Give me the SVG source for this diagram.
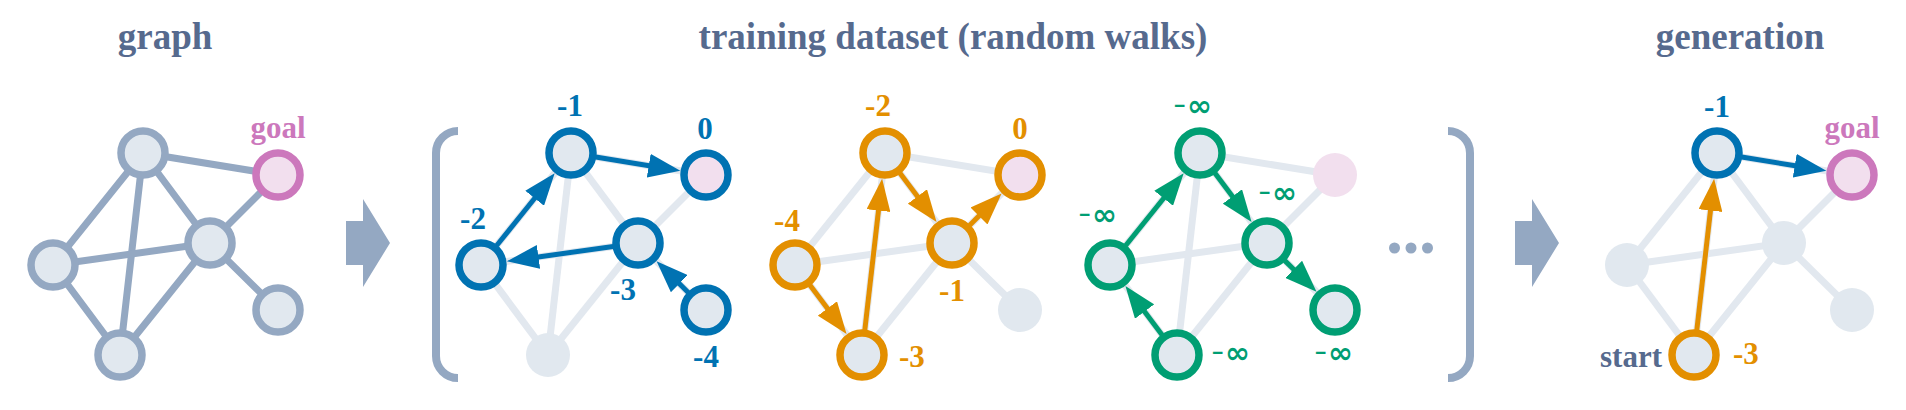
<svg xmlns="http://www.w3.org/2000/svg" width="1906" height="410" viewBox="0 0 1906 410">
<style>
.title{font-family:"Liberation Serif",serif;font-weight:bold;font-size:37px;fill:#566a8e;text-anchor:middle}
.lbl{font-family:"Liberation Serif",serif;font-weight:bold;font-size:31px;text-anchor:middle}
.inf{font-family:"DejaVu Sans",sans-serif;font-weight:bold;font-size:30px;text-anchor:middle;fill:#009e73}
.mn{font-family:"Liberation Sans",sans-serif;font-weight:bold;font-size:19px}
.st{text-anchor:start}
.en{text-anchor:end}
.e{stroke:#94a8c2;stroke-width:7;stroke-linecap:round}
.f{stroke:#e2e8ef;stroke-width:7}
.n{fill:#e1e8ef;stroke:#94a8c2;stroke-width:7.5}
.g{fill:#f2dfee;stroke:#cc78bc;stroke-width:7.5}
.fn{fill:#e1e8ef}
.fg{fill:#f2dfee}
.nb{fill:#e1e8ef;stroke:#0072b2;stroke-width:7.5}
.no{fill:#e1e8ef;stroke:#e38f00;stroke-width:7.5}
.ng{fill:#e1e8ef;stroke:#009e73;stroke-width:7.5}
.gb{fill:#f2dfee;stroke:#0072b2;stroke-width:7.5}
.go{fill:#f2dfee;stroke:#e38f00;stroke-width:7.5}
.ab{stroke:#0072b2;stroke-width:5;marker-end:url(#mb)}
.ao{stroke:#e38f00;stroke-width:5;marker-end:url(#mo)}
.ag{stroke:#009e73;stroke-width:5;marker-end:url(#mg)}
.cb{fill:#0072b2}.co{fill:#e38f00}.cg{fill:#009e73}.cp{fill:#cc78bc}.cs{fill:#566a8e}
.br{fill:none;stroke:#94a8c2;stroke-width:8}
.big{fill:#94a8c2}
</style>
<defs>
<marker id="mb" markerUnits="userSpaceOnUse" markerWidth="32" markerHeight="24" viewBox="0 0 32 24" refX="2" refY="12" orient="auto"><path d="M0,0 L32,12 L0,24 z" fill="#0072b2"/></marker>
<marker id="mo" markerUnits="userSpaceOnUse" markerWidth="32" markerHeight="24" viewBox="0 0 32 24" refX="2" refY="12" orient="auto"><path d="M0,0 L32,12 L0,24 z" fill="#e38f00"/></marker>
<marker id="mg" markerUnits="userSpaceOnUse" markerWidth="32" markerHeight="24" viewBox="0 0 32 24" refX="2" refY="12" orient="auto"><path d="M0,0 L32,12 L0,24 z" fill="#009e73"/></marker>
</defs>

<g id="titles">
<text class="title" x="165" y="49">graph</text>
<text class="title" x="953" y="49">training dataset (random walks)</text>
<text class="title" x="1740" y="49">generation</text>
</g>

<g id="decor">
<polygon class="big" points="346,221 363,221 363,199 390,243 363,287 363,265 346,265"/>
<polygon class="big" points="1515,221 1532,221 1532,199 1559,243 1532,287 1532,265 1515,265"/>
<path class="br" d="M458,131 A22,22 0 0 0 436,153 V356 A22,22 0 0 0 458,378"/>
<path class="br" d="M1448,131 A22,22 0 0 1 1470,153 V356 A22,22 0 0 1 1448,378"/>
<circle cx="1394.5" cy="248" r="5.5" fill="#94a8c2"/>
<circle cx="1411" cy="248" r="5.5" fill="#94a8c2"/>
<circle cx="1427.5" cy="248" r="5.5" fill="#94a8c2"/>
</g>

<g id="connectors">
<!-- graph 1 -->
<line class="e" x1="143" y1="153" x2="278" y2="175"/>
<line class="e" x1="143" y1="153" x2="53" y2="265"/>
<line class="e" x1="143" y1="153" x2="120" y2="355"/>
<line class="e" x1="143" y1="153" x2="210" y2="243"/>
<line class="e" x1="210" y1="243" x2="278" y2="175"/>
<line class="e" x1="210" y1="243" x2="53" y2="265"/>
<line class="e" x1="210" y1="243" x2="278" y2="310"/>
<line class="e" x1="53" y1="265" x2="120" y2="355"/>
<line class="e" x1="120" y1="355" x2="210" y2="243"/>
<!-- graph 2 -->
<line class="f" x1="571" y1="153" x2="706" y2="175"/>
<line class="f" x1="571" y1="153" x2="481" y2="265"/>
<line class="f" x1="571" y1="153" x2="548" y2="355"/>
<line class="f" x1="571" y1="153" x2="638" y2="243"/>
<line class="f" x1="638" y1="243" x2="706" y2="175"/>
<line class="f" x1="638" y1="243" x2="481" y2="265"/>
<line class="f" x1="638" y1="243" x2="706" y2="310"/>
<line class="f" x1="481" y1="265" x2="548" y2="355"/>
<line class="f" x1="548" y1="355" x2="638" y2="243"/>
<!-- graph 3 -->
<line class="f" x1="885" y1="153" x2="1020" y2="175"/>
<line class="f" x1="885" y1="153" x2="795" y2="265"/>
<line class="f" x1="885" y1="153" x2="862" y2="355"/>
<line class="f" x1="885" y1="153" x2="952" y2="243"/>
<line class="f" x1="952" y1="243" x2="1020" y2="175"/>
<line class="f" x1="952" y1="243" x2="795" y2="265"/>
<line class="f" x1="952" y1="243" x2="1020" y2="310"/>
<line class="f" x1="795" y1="265" x2="862" y2="355"/>
<line class="f" x1="862" y1="355" x2="952" y2="243"/>
<!-- graph 4 -->
<line class="f" x1="1200" y1="153" x2="1335" y2="175"/>
<line class="f" x1="1200" y1="153" x2="1110" y2="265"/>
<line class="f" x1="1200" y1="153" x2="1177" y2="355"/>
<line class="f" x1="1200" y1="153" x2="1267" y2="243"/>
<line class="f" x1="1267" y1="243" x2="1335" y2="175"/>
<line class="f" x1="1267" y1="243" x2="1110" y2="265"/>
<line class="f" x1="1267" y1="243" x2="1335" y2="310"/>
<line class="f" x1="1110" y1="265" x2="1177" y2="355"/>
<line class="f" x1="1177" y1="355" x2="1267" y2="243"/>
<!-- graph 5 -->
<line class="f" x1="1717" y1="153" x2="1852" y2="175"/>
<line class="f" x1="1717" y1="153" x2="1627" y2="265"/>
<line class="f" x1="1717" y1="153" x2="1694" y2="355"/>
<line class="f" x1="1717" y1="153" x2="1784" y2="243"/>
<line class="f" x1="1784" y1="243" x2="1852" y2="175"/>
<line class="f" x1="1784" y1="243" x2="1627" y2="265"/>
<line class="f" x1="1784" y1="243" x2="1852" y2="310"/>
<line class="f" x1="1627" y1="265" x2="1694" y2="355"/>
<line class="f" x1="1694" y1="355" x2="1784" y2="243"/>
<!-- walk arrows -->
<line class="ab" x1="688.2" y1="292.5" x2="677.9" y2="282.3"/>
<line class="ab" x1="613.2" y1="246.5" x2="536.5" y2="257.2"/>
<line class="ab" x1="496.7" y1="245.5" x2="535.9" y2="196.7"/>
<line class="ab" x1="595.7" y1="157" x2="650.7" y2="166"/>
<line class="ao" x1="809.9" y1="285.1" x2="828.6" y2="310.1"/>
<line class="ao" x1="864.8" y1="330.2" x2="878.7" y2="208.6"/>
<line class="ao" x1="899.9" y1="173.1" x2="918.6" y2="198.1"/>
<line class="ao" x1="969.7" y1="225.3" x2="980.4" y2="214.6"/>
<line class="ag" x1="1162.1" y1="334.9" x2="1143.4" y2="309.9"/>
<line class="ag" x1="1125.7" y1="245.5" x2="1164.9" y2="196.7"/>
<line class="ag" x1="1214.9" y1="173.1" x2="1233.6" y2="198.1"/>
<line class="ag" x1="1284.8" y1="260.6" x2="1295.1" y2="270.7"/>
<line class="ao" x1="1696.8" y1="330.2" x2="1710.7" y2="208.6"/>
<line class="ab" x1="1741.7" y1="157" x2="1796.7" y2="166"/>
</g>

<!-- graph 1 nodes -->
<g id="g1-a"><circle class="n" cx="143" cy="153" r="22"/></g>
<g id="g1-goal"><circle class="g" cx="278" cy="175" r="22"/><text class="lbl cp" x="278" y="138">goal</text></g>
<g id="g1-c"><circle class="n" cx="210" cy="243" r="22"/></g>
<g id="g1-d"><circle class="n" cx="53" cy="265" r="22"/></g>
<g id="g1-e"><circle class="n" cx="120" cy="355" r="22"/></g>
<g id="g1-f"><circle class="n" cx="278" cy="310" r="22"/></g>

<!-- graph 2 nodes -->
<g id="g2-a"><circle class="nb" cx="571" cy="153" r="22"/><text class="lbl cb" x="570" y="116">-1</text></g>
<g id="g2-goal"><circle class="gb" cx="706" cy="175" r="22"/><text class="lbl cb" x="705" y="139">0</text></g>
<g id="g2-c"><circle class="nb" cx="638" cy="243" r="22"/><text class="lbl cb" x="623" y="300">-3</text></g>
<g id="g2-d"><circle class="nb" cx="481" cy="265" r="22"/><text class="lbl cb" x="473" y="229">-2</text></g>
<g id="g2-e"><circle class="fn" cx="548" cy="355" r="22"/></g>
<g id="g2-f"><circle class="nb" cx="706" cy="310" r="22"/><text class="lbl cb" x="706" y="367">-4</text></g>

<!-- graph 3 nodes -->
<g id="g3-a"><circle class="no" cx="885" cy="153" r="22"/><text class="lbl co" x="878" y="116">-2</text></g>
<g id="g3-goal"><circle class="go" cx="1020" cy="175" r="22"/><text class="lbl co" x="1020" y="139">0</text></g>
<g id="g3-c"><circle class="no" cx="952" cy="243" r="22"/><text class="lbl co" x="952" y="301">-1</text></g>
<g id="g3-d"><circle class="no" cx="795" cy="265" r="22"/><text class="lbl co" x="787" y="231">-4</text></g>
<g id="g3-e"><circle class="no" cx="862" cy="355" r="22"/><text class="lbl co st" x="899" y="367">-3</text></g>
<g id="g3-f"><circle class="fn" cx="1020" cy="310" r="22"/></g>

<!-- graph 4 nodes -->
<g id="g4-a"><circle class="ng" cx="1200" cy="153" r="22"/><text class="inf" x="1193" y="116"><tspan class="mn" dy="-4">−</tspan><tspan dx="2" dy="4">∞</tspan></text></g>
<g id="g4-goal"><circle class="fg" cx="1335" cy="175" r="22"/></g>
<g id="g4-c"><circle class="ng" cx="1267" cy="243" r="22"/><text class="inf" x="1278" y="203"><tspan class="mn" dy="-4">−</tspan><tspan dx="2" dy="4">∞</tspan></text></g>
<g id="g4-d"><circle class="ng" cx="1110" cy="265" r="22"/><text class="inf" x="1098" y="225"><tspan class="mn" dy="-4">−</tspan><tspan dx="2" dy="4">∞</tspan></text></g>
<g id="g4-e"><circle class="ng" cx="1177" cy="355" r="22"/><text class="inf st" x="1212" y="363"><tspan class="mn" dy="-4">−</tspan><tspan dx="2" dy="4">∞</tspan></text></g>
<g id="g4-f"><circle class="ng" cx="1335" cy="310" r="22"/><text class="inf" x="1334" y="363"><tspan class="mn" dy="-4">−</tspan><tspan dx="2" dy="4">∞</tspan></text></g>

<!-- graph 5 nodes -->
<g id="g5-a"><circle class="nb" cx="1717" cy="153" r="22"/><text class="lbl cb" x="1717" y="117">-1</text></g>
<g id="g5-goal"><circle class="g" cx="1852" cy="175" r="22"/><text class="lbl cp" x="1852" y="138">goal</text></g>
<g id="g5-c"><circle class="fn" cx="1784" cy="243" r="22"/></g>
<g id="g5-d"><circle class="fn" cx="1627" cy="265" r="22"/></g>
<g id="g5-e"><circle class="no" cx="1694" cy="355" r="22"/><text class="lbl cs en" x="1662" y="367">start</text><text class="lbl co st" x="1733" y="364">-3</text></g>
<g id="g5-f"><circle class="fn" cx="1852" cy="310" r="22"/></g>
</svg>
